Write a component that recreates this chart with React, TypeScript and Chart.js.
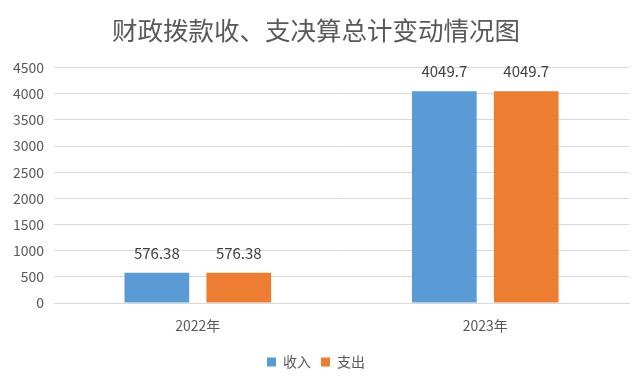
import React, { useEffect, useRef } from "react";
import { Chart, registerables } from "chart.js";

Chart.register(...registerables);

const categories = ["2022年", "2023年"];
const seriesNames = ["收入", "支出"];
const incomeValues = [576.38, 4049.7];
const expenseValues = [576.38, 4049.7];
const valueLabels = [["576.38", "4049.7"], ["576.38", "4049.7"]];
const titleText = "财政拨款收、支决算总计变动情况图";

const FONT = "'Noto Sans CJK SC', 'Microsoft YaHei', sans-serif";

const dataLabelPlugin = {
  id: "dataLabels",
  afterDatasetsDraw(chart: any) {
    const ctx = chart.ctx;
    ctx.save();
    ctx.font = `15px ${FONT}`;
    ctx.fillStyle = "#404040";
    ctx.textAlign = "center";
    ctx.textBaseline = "middle";
    chart.data.datasets.forEach((ds: any, di: number) => {
      const meta = chart.getDatasetMeta(di);
      meta.data.forEach((el: any, i: number) => {
        ctx.fillText(valueLabels[di][i], el.x, el.y - 20);
      });
    });
    ctx.restore();
  },
};

export default function App() {
  const ref = useRef<HTMLCanvasElement>(null);
  useEffect(() => {
    document.body.style.margin = "0";
    const chart = new Chart(ref.current!, {
      type: "bar",
      data: {
        labels: categories,
        datasets: [
          {
            label: seriesNames[0],
            data: incomeValues,
            backgroundColor: "#5b9bd5",
            categoryPercentage: 0.57,
            barPercentage: 0.79,
          },
          {
            label: seriesNames[1],
            data: expenseValues,
            backgroundColor: "#ed7d31",
            categoryPercentage: 0.57,
            barPercentage: 0.79,
          },
        ],
      },
      options: {
        animation: false,
        responsive: false,
        maintainAspectRatio: false,
        layout: { padding: { top: 8, left: 3, right: 11, bottom: 0 } },
        plugins: {
          title: {
            display: true,
            text: titleText,
            color: "#595959",
            font: { family: FONT, size: 25.5, weight: "normal" },
            padding: { top: 7, bottom: 22 },
          },
          legend: {
            position: "bottom",
            labels: {
              color: "#595959",
              font: { family: FONT, size: 14 },
              boxWidth: 9,
              boxHeight: 9,
              padding: 10,
            },
          },
          tooltip: { enabled: false },
        },
        scales: {
          x: {
            grid: { display: false },
            border: { color: "#d9d9d9" },
            ticks: { color: "#595959", font: { family: FONT, size: 14 }, padding: 6 },
            afterFit: (s: any) => {
              s.height = 42;
            },
          },
          y: {
            min: 0,
            max: 4500,
            ticks: {
              stepSize: 500,
              color: "#595959",
              font: { family: FONT, size: 14 },
              padding: 10,
              callback: (v: any) => String(v),
            },
            grid: { color: "#d9d9d9", drawTicks: false },
            border: { display: false },
          },
        },
      },
      plugins: [dataLabelPlugin],
    });
    return () => chart.destroy();
  }, []);
  return (
    <div style={{ width: 640, height: 379 }}>
      <canvas ref={ref} width={640} height={379} />
    </div>
  );
}
